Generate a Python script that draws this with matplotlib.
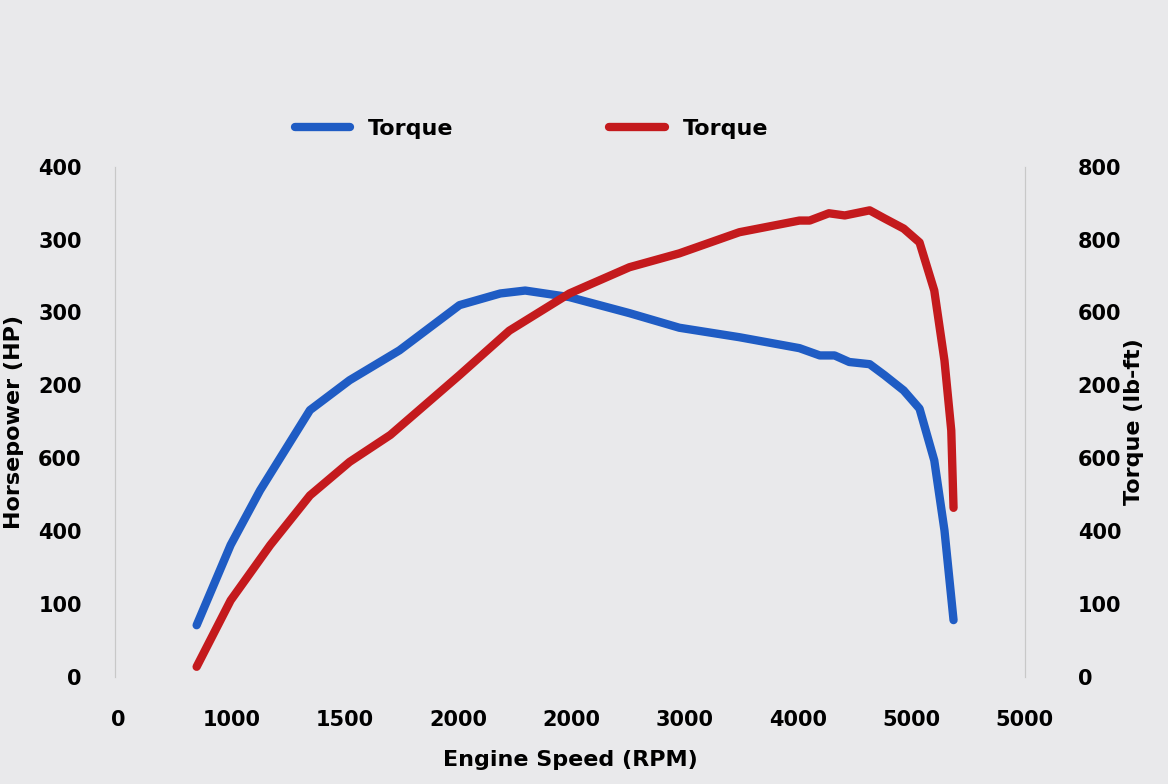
import matplotlib.pyplot as plt

x_labels = ['0', '1000', '1500', '2000', '2000', '3000', '4000', '5000', '5000']
hp_labels = ['0', '100', '400', '600', '200', '300', '300', '400']
tq_labels = ['0', '100', '400', '600', '200', '600', '800', '800']

# positions in tick units (tick i = i-th label)
hp_x = [0.69, 0.99, 1.25, 1.69, 2.04, 2.48, 3.01, 3.37, 3.59, 3.98, 4.51, 4.95, 5.48,
        6.01, 6.19, 6.32, 6.45, 6.63, 6.76, 6.93, 7.07, 7.20, 7.29, 7.37]
hp_y = [0.71, 1.81, 2.56, 3.66, 4.07, 4.48, 5.10, 5.26, 5.30, 5.21, 4.99, 4.79, 4.66,
        4.51, 4.41, 4.41, 4.32, 4.29, 4.14, 3.93, 3.68, 2.97, 2.01, 0.78]
tq_x = [0.69, 0.99, 1.34, 1.69, 2.04, 2.40, 3.01, 3.45, 3.98, 4.51, 4.95, 5.48, 6.01,
        6.10, 6.27, 6.41, 6.63, 6.76, 6.93, 7.07, 7.20, 7.29, 7.35, 7.37]
tq_y = [0.14, 1.05, 1.81, 2.49, 2.95, 3.32, 4.14, 4.75, 5.26, 5.62, 5.81, 6.10, 6.26,
        6.26, 6.36, 6.33, 6.40, 6.29, 6.15, 5.96, 5.30, 4.34, 3.38, 2.32]

bg = '#e9e9eb'
fig = plt.figure(figsize=(11.68, 7.84), dpi=100, facecolor=bg)
ax = fig.add_axes([0.0985, 0.1365, 0.779, 0.651], facecolor=bg)
ax2 = ax.twinx()

l1, = ax.plot(hp_x, hp_y, color='#1f5cc4', lw=6, solid_capstyle='round',
              solid_joinstyle='round', label='Torque')
l2, = ax2.plot(tq_x, tq_y, color='#c41a1d', lw=6, solid_capstyle='round',
               solid_joinstyle='round', label='Torque')

for a in (ax, ax2):
    a.set_xlim(-0.03, 8.0)
    a.set_ylim(0, 7)
    for s in ['top', 'bottom']:
        a.spines[s].set_visible(False)
    for s in ['left', 'right']:
        a.spines[s].set_color('#c8c8c8')
    a.tick_params(length=0, labelsize=15)

ax.set_xticks(range(9))
ax.set_xticklabels(x_labels, fontweight='bold')
ax.set_yticks(range(8))
ax.set_yticklabels(hp_labels, fontweight='bold')
ax2.set_yticks(range(8))
ax2.set_yticklabels(tq_labels, fontweight='bold')
ax.tick_params(axis='y', pad=24)
ax.tick_params(axis='x', pad=24)
ax2.tick_params(axis='y', pad=38)

ax.set_xlabel('Engine Speed (RPM)', fontsize=16, fontweight='bold', labelpad=14)
ax.set_ylabel('Horsepower (HP)', fontsize=16, fontweight='bold', labelpad=10)
ax2.set_ylabel('Torque (lb-ft)', fontsize=16, fontweight='bold', labelpad=2)

fig.legend([l1, l2], ['Torque', 'Torque'], loc='center', bbox_to_anchor=(0.455, 0.836),
           ncol=2, frameon=False, columnspacing=7, handlelength=2.5,
           prop={'size': 16, 'weight': 'bold'})

fig.savefig('out.png', facecolor=bg)
